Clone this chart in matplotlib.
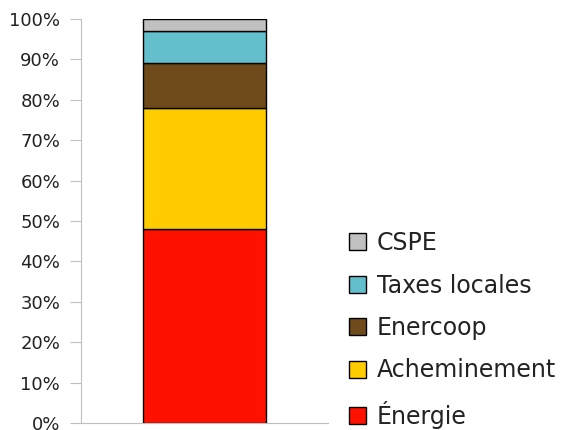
import matplotlib
matplotlib.use("Agg")
import matplotlib.pyplot as plt
from matplotlib.ticker import PercentFormatter

# parts of the electricity price, in percent
categories = ['Énergie', 'Acheminement', 'Enercoop', 'Taxes locales', 'CSPE']
shares = [48, 30, 11, 8, 3]
colors = ['#FF1100', '#FFCC00', '#6F4A1B', '#63BFCC', '#C0C0C0']

plt.rcParams['font.family'] = ['DejaVu Sans']

fig = plt.figure(figsize=(5.62, 4.30), dpi=100)
ax = fig.add_axes([0.144, 0.0163, 0.44, 0.9397])

bottom = 0
handles = []
for name, val, col in zip(categories, shares, colors):
    b = ax.bar(0, val, width=0.5, bottom=bottom, color=col,
               edgecolor='black', linewidth=1, label=name)
    handles.append(b)
    bottom += val

ax.set_xlim(-0.5, 0.5)
ax.set_ylim(0, 100)
ax.set_yticks(range(0, 101, 10))
ax.yaxis.set_major_formatter(PercentFormatter(decimals=0))
ax.set_xticks([])

for s in ['top', 'right']:
    ax.spines[s].set_visible(False)
for s in ['left', 'bottom']:
    ax.spines[s].set_color('#BFBFBF')
ax.tick_params(axis='y', length=8, color='#BFBFBF', labelsize=13,
               labelcolor='#222222', pad=7)

leg = fig.legend(handles[::-1], categories[::-1], loc='upper left',
                 bbox_to_anchor=(0.6, 0.49), frameon=False, borderpad=0,
                 handlelength=0.72, handleheight=0.72, handletextpad=0.45,
                 labelspacing=0.78, fontsize=17)
for t in leg.get_texts():
    t.set_color('#222222')

fig.savefig('out.png', dpi=100)
